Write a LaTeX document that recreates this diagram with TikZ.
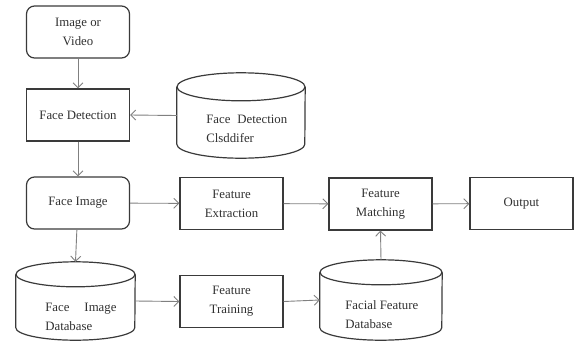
\documentclass[tikz,border=0pt]{standalone}
\usepackage{fontspec}
\setmainfont{Liberation Serif}
\usetikzlibrary{arrows.meta}

\definecolor{linec}{HTML}{3A3A3A}
\definecolor{arrc}{HTML}{808080}
\definecolor{txtc}{HTML}{303030}

\tikzset{
    blk/.style={draw=linec, line width=1.2pt, minimum width=103pt, minimum height=52pt,
        align=center, text=txtc, font=\fontsize{12.8}{19}\selectfont},
    rblk/.style={blk, rounded corners=8pt},
    cyl/.style={draw=linec, line width=1.2pt},
    dbtxt/.style={anchor=west, align=left, text=txtc, font=\fontsize{12.8}{19}\selectfont},
    flow/.style={draw=arrc, line width=0.9pt, -{Straight Barb[length=5pt,width=10pt]}}
}

\begin{document}
\begin{tikzpicture}[x=1pt,y=-1pt]
    \useasboundingbox (0,0) rectangle (574,341);

    \def\ca{78}		%left column
    \def\cb{231.5}	%second column

    %BOXES
    \node[rblk] (img)  at (\ca,32)  {Image or\\Video};
    \node[blk]  (det)  at (\ca,115) {Face Detection};
    \node[rblk] (fimg) at (\ca,203) {Face Image};
    \node[blk]  (fext) at (\cb,203.5) {Feature\\Extraction};
    \node[blk]  (fmat) at (380.5,204) {Feature\\Matching};
    \node[blk]  (out)  at (521.5,203.5) {Output};
    \node[blk]  (ftr)  at (\cb,301.5) {Feature\\Training};

    %DATABASES (outline drawn below)
    \node[minimum width=128pt, minimum height=85pt, inner sep=0pt,
        label={[dbtxt,xshift=26pt,yshift=-13pt]west:{Face\hspace*{7pt}Detection\\Clsddifer}}]
        (fdc) at (241,115.5) {};
    \node[minimum width=119pt, minimum height=78pt, inner sep=0pt,
        label={[dbtxt,xshift=26pt,yshift=-16pt]west:{Face\hspace*{15pt}Image\\Database}}]
        (fid) at (75.5,301) {};
    \node[minimum width=122pt, minimum height=80pt, inner sep=0pt,
        label={[dbtxt,xshift=22pt,yshift=-15pt]west:{Facial Feature\\Database}}]
        (ffd) at (381,300) {};

    \foreach \c/\rx/\ry in {fdc/64/14, fid/59.5/12.5, ffd/61/12.5}{
        \draw[cyl] ([yshift=-\ry pt]\c.north) ellipse [x radius=\rx pt, y radius=\ry pt];
        \draw[cyl] ([yshift=-\ry pt]\c.north west) -- ([yshift=\ry pt]\c.south west)
            arc [start angle=180, end angle=360, x radius=\rx pt, y radius=\ry pt]
            -- ([yshift=-\ry pt]\c.north east);
    } %end of cylinder loop

    %ARROWS
    \draw[flow] (img) -- (det);
    \draw[flow] (fdc.west) -- (det.east);
    \draw[flow] (det) -- (fimg);
    \draw[flow] (fimg) -- (fid.north);
    \draw[flow] (fimg) -- (fext);
    \draw[flow] (fext) -- (fmat);
    \draw[flow] (fmat) -- (out);
    \draw[flow] (fid.east) -- (ftr.west);
    \draw[flow] (ftr.east) -- (ffd.west);
    \draw[flow] (ffd.north) -- (fmat.south);
\end{tikzpicture}
\end{document}
